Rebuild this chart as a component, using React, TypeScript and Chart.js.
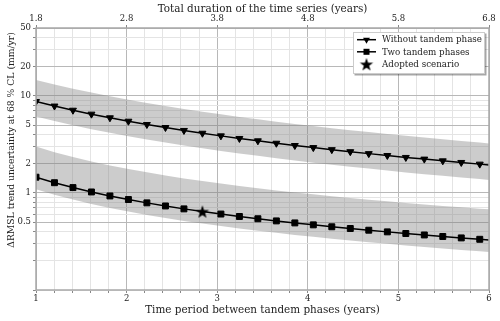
import React, { useEffect, useRef } from 'react';
import { Chart, registerables } from 'chart.js';

Chart.register(...registerables);

// ---- data ----
const xPhase = [1.0, 1.204, 1.408, 1.612, 1.816, 2.02, 2.224, 2.429, 2.633, 2.837, 3.041, 3.245, 3.449, 3.653, 3.857, 4.061, 4.265, 4.469, 4.673, 4.878, 5.082, 5.286, 5.49, 5.694, 5.898, 6.0];

const withoutTandem = [8.73, 7.85, 7.11, 6.48, 5.94, 5.48, 5.07, 4.72, 4.4, 4.12, 3.87, 3.64, 3.44, 3.25, 3.08, 2.93, 2.79, 2.66, 2.54, 2.43, 2.32, 2.23, 2.14, 2.06, 1.98, 1.94];
const withoutUpper = [14.55, 13.09, 11.85, 10.8, 9.9, 9.14, 8.45, 7.87, 7.33, 6.87, 6.45, 6.07, 5.73, 5.42, 5.13, 4.88, 4.65, 4.43, 4.23, 4.05, 3.87, 3.72, 3.57, 3.43, 3.3, 3.23];
const withoutLower = [6.11, 5.5, 4.98, 4.54, 4.16, 3.84, 3.55, 3.31, 3.08, 2.89, 2.71, 2.55, 2.41, 2.28, 2.16, 2.05, 1.95, 1.86, 1.78, 1.7, 1.62, 1.56, 1.5, 1.44, 1.39, 1.36];

const twoTandem = [1.452, 1.274, 1.135, 1.023, 0.931, 0.855, 0.79, 0.734, 0.685, 0.643, 0.606, 0.572, 0.542, 0.515, 0.491, 0.469, 0.448, 0.43, 0.413, 0.397, 0.382, 0.369, 0.356, 0.344, 0.333, 0.328];
const twoUpper = [3.0, 2.63, 2.34, 2.11, 1.92, 1.76, 1.63, 1.51, 1.41, 1.33, 1.25, 1.18, 1.12, 1.06, 1.01, 0.968, 0.924, 0.887, 0.852, 0.819, 0.788, 0.761, 0.734, 0.71, 0.687, 0.677];
const twoLower = [1.093, 0.959, 0.854, 0.77, 0.701, 0.643, 0.594, 0.552, 0.515, 0.484, 0.456, 0.43, 0.408, 0.388, 0.369, 0.353, 0.337, 0.324, 0.311, 0.299, 0.287, 0.278, 0.268, 0.259, 0.251, 0.247];

const adoptedX = [2.837];
const adoptedY = [0.643];

const xTickValues = [1, 1.2, 1.4, 1.6, 1.8, 2, 2.2, 2.4, 2.6, 2.8, 3, 3.2, 3.4, 3.6, 3.8, 4, 4.2, 4.4, 4.6, 4.8, 5, 5.2, 5.4, 5.6, 5.8, 6];
const xMajorTicks = [1, 2, 3, 4, 5, 6];
const topTickValues = [1.8, 2.8, 3.8, 4.8, 5.8, 6.8];
const yTickValues = [0.1, 0.2, 0.3, 0.4, 0.5, 0.6, 0.7, 0.8, 0.9, 1, 2, 3, 4, 5, 6, 7, 8, 9, 10, 20, 30, 40, 50];
const yLabeled = [0.5, 1, 2, 5, 10, 20, 50];

const labels = ['Without tandem phase', 'Two tandem phases', 'Adopted scenario'];
const xTitle = 'Time period between tandem phases (years)';
const topTitle = 'Total duration of the time series (years)';
const yTitle = 'ΔRMSL trend uncertainty at 68 % CL (mm/yr)';

const FONT = '"DejaVu Serif", serif';
const BAND = 'rgba(128,128,128,0.4)';

function pts(ys: number[]) {
  return ys.map((y, i) => ({ x: xPhase[i], y }));
}

function makeStar(r: number): HTMLCanvasElement {
  const size = Math.ceil(r * 2 + 2);
  const c = document.createElement('canvas');
  c.width = size;
  c.height = size;
  const g = c.getContext('2d')!;
  g.beginPath();
  for (let i = 0; i < 10; i++) {
    const rr = i % 2 === 0 ? r : r * 0.4;
    const a = -Math.PI / 2 + (i * Math.PI) / 5;
    g.lineTo(size / 2 + rr * Math.cos(a), size / 2 + rr * Math.sin(a) + r * 0.1);
  }
  g.closePath();
  g.fillStyle = '#000';
  g.fill();
  return c;
}

function near(v: number, arr: number[]) {
  return arr.some((a) => Math.abs(a - v) < 1e-6);
}

function fitFont(ctx: CanvasRenderingContext2D, text: string, width: number) {
  ctx.font = `10px ${FONT}`;
  const w = ctx.measureText(text).width;
  return (10 * width) / w;
}

export default function App() {
  const ref = useRef<HTMLCanvasElement | null>(null);

  useEffect(() => {
    if (!ref.current) return;
    const star = makeStar(7);
    const n = xPhase.length;
    const triRadius = xPhase.map((_, i) => (i === n - 1 ? 0 : 4));
    const sqRadius = xPhase.map((_, i) => (i === n - 1 || i === 9 ? 0 : 4.2));

    const decor = {
      id: 'decor',
      afterDraw(chart: any) {
        const ctx = chart.ctx as CanvasRenderingContext2D;
        const a = chart.chartArea;
        ctx.save();
        // frame
        ctx.strokeStyle = '#a8a8a8';
        ctx.lineWidth = 1.5;
        ctx.strokeRect(a.left, a.top, a.right - a.left, a.bottom - a.top);
        // titles
        ctx.fillStyle = '#222';
        ctx.textAlign = 'center';
        ctx.textBaseline = 'middle';
        const cx = (a.left + a.right) / 2;
        ctx.font = `${fitFont(ctx, topTitle, 210)}px ${FONT}`;
        ctx.fillText(topTitle, cx, 9);
        ctx.font = `${fitFont(ctx, xTitle, 235)}px ${FONT}`;
        ctx.fillText(xTitle, cx, 310);
        ctx.save();
        ctx.font = `${fitFont(ctx, yTitle, 216)}px ${FONT}`;
        ctx.translate(12, 140);
        ctx.rotate(-Math.PI / 2);
        ctx.fillText(yTitle, 0, 0);
        ctx.restore();
        // legend
        const bx = 353, by = 32, bw = 132, bh = 42;
        ctx.fillStyle = 'rgba(0,0,0,0.35)';
        ctx.fillRect(bx + 1.5, by + 1.5, bw, bh);
        ctx.fillStyle = '#fff';
        ctx.fillRect(bx, by, bw, bh);
        ctx.strokeStyle = '#cccccc';
        ctx.lineWidth = 1;
        ctx.strokeRect(bx + 0.5, by + 0.5, bw - 1, bh - 1);
        const rows = [39.7, 51.8, 64.2];
        const mx = 366.5;
        ctx.fillStyle = '#000';
        ctx.strokeStyle = '#000';
        ctx.lineWidth = 1.5;
        for (let i = 0; i < 2; i++) {
          ctx.beginPath();
          ctx.moveTo(357, rows[i]);
          ctx.lineTo(376, rows[i]);
          ctx.stroke();
        }
        // triangle down
        ctx.beginPath();
        ctx.moveTo(mx, rows[0] + 4);
        ctx.lineTo(mx - 3.46, rows[0] - 2);
        ctx.lineTo(mx + 3.46, rows[0] - 2);
        ctx.closePath();
        ctx.fill();
        // square
        ctx.fillRect(mx - 3, rows[1] - 3, 6, 6);
        // star
        ctx.drawImage(star, mx - star.width / 2, rows[2] - star.height / 2);
        ctx.fillStyle = '#222';
        const lf = fitFont(ctx, labels[0], 100);
        ctx.font = `${lf}px ${FONT}`;
        ctx.textAlign = 'left';
        ctx.textBaseline = 'middle';
        labels.forEach((t, i) => ctx.fillText(t, 382, rows[i] + 0.5));
        ctx.restore();
      },
    };

    const tickFont = { family: FONT, size: 8.5 };

    const chart = new Chart(ref.current, {
      type: 'line',
      data: {
        datasets: [
          { label: 'wu', data: pts(withoutUpper), borderWidth: 0, pointRadius: 0, backgroundColor: BAND, fill: '+1', order: 5 },
          { label: 'wl', data: pts(withoutLower), borderWidth: 0, pointRadius: 0, fill: false, order: 5 },
          { label: 'tu', data: pts(twoUpper), borderWidth: 0, pointRadius: 0, backgroundColor: BAND, fill: '+1', order: 5 },
          { label: 'tl', data: pts(twoLower), borderWidth: 0, pointRadius: 0, fill: false, order: 5 },
          {
            label: labels[0], data: pts(withoutTandem), borderColor: '#000', borderWidth: 1.5,
            pointStyle: 'triangle', rotation: 180, pointRadius: triRadius,
            pointBackgroundColor: '#000', pointBorderColor: '#000', pointBorderWidth: 1, fill: false, order: 2,
          },
          {
            label: labels[1], data: pts(twoTandem), borderColor: '#000', borderWidth: 1.5,
            pointStyle: 'rect', pointRadius: sqRadius,
            pointBackgroundColor: '#000', pointBorderColor: '#000', pointBorderWidth: 1, fill: false, order: 2,
          },
          {
            label: labels[2], data: adoptedX.map((x, i) => ({ x, y: adoptedY[i] })), showLine: false,
            pointStyle: star as any, pointRadius: 7, fill: false, order: 1,
          },
        ] as any,
      },
      options: {
        animation: false,
        responsive: true,
        maintainAspectRatio: false,
        layout: { padding: { left: 0, right: 11, top: 0, bottom: 0 } },
        plugins: { legend: { display: false }, tooltip: { enabled: false } },
        scales: {
          x: {
            type: 'linear', position: 'bottom', min: 1, max: 6,
            afterBuildTicks: (s: any) => { s.ticks = xTickValues.map((v) => ({ value: v })); },
            afterFit: (s: any) => { s.height = 31; },
            ticks: {
              autoSkip: false, maxRotation: 0, padding: 1,
              font: tickFont, color: '#222',
              callback: (v: any) => (near(Number(v), xMajorTicks) ? String(Math.round(Number(v))) : ''),
            },
            grid: {
              color: (c: any) => (c.tick && near(c.tick.value, xMajorTicks) ? '#b8b8b8' : '#e4e4e4'),
              tickColor: '#888', tickLength: 3, lineWidth: 1,
            },
            border: { display: false },
          },
          x2: {
            type: 'linear', position: 'top', min: 1.8, max: 6.8,
            afterBuildTicks: (s: any) => { s.ticks = topTickValues.map((v) => ({ value: v })); },
            afterFit: (s: any) => { s.height = 28; },
            ticks: {
              autoSkip: false, maxRotation: 0, padding: 1,
              font: tickFont, color: '#222',
              callback: (v: any) => Number(v).toFixed(1),
            },
            grid: { drawOnChartArea: false, tickColor: '#888', tickLength: 3 },
            border: { display: false },
          },
          y: {
            type: 'logarithmic', position: 'left', min: 0.1, max: 50,
            afterBuildTicks: (s: any) => { s.ticks = yTickValues.map((v) => ({ value: v })); },
            afterFit: (s: any) => { s.width = 36; },
            ticks: {
              autoSkip: false, padding: 2,
              font: tickFont, color: '#222',
              callback: (v: any) => (near(Number(v), yLabeled) ? String(Number(v)) : ''),
            },
            grid: {
              color: (c: any) => (c.tick && near(c.tick.value, yLabeled) ? '#b8b8b8' : '#e4e4e4'),
              tickColor: '#888', tickLength: 3, lineWidth: 1,
            },
            border: { display: false },
          },
        } as any,
      },
      plugins: [decor],
    });
    return () => chart.destroy();
  }, []);

  return (
    <div style={{ position: 'fixed', left: 0, top: 0, width: 500, height: 321, background: '#fff' }}>
      <canvas ref={ref} />
    </div>
  );
}
